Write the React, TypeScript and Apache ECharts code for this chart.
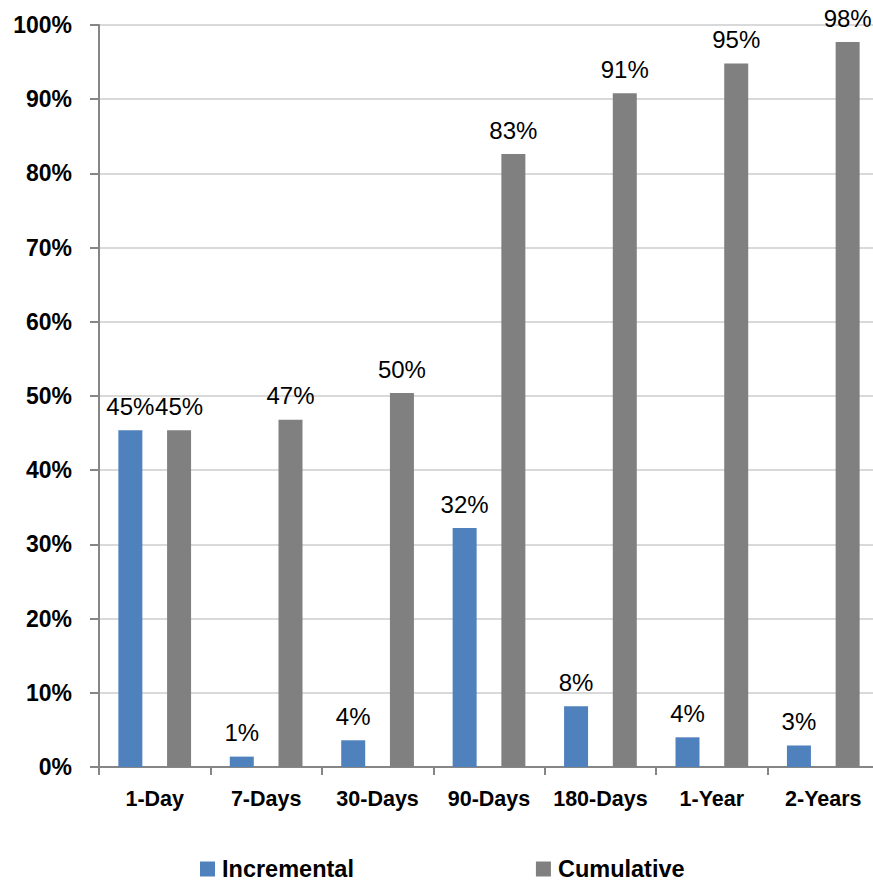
import React, { useEffect, useRef } from "react";
import * as echarts from "echarts";

const categories = ["1-Day", "7-Days", "30-Days", "90-Days", "180-Days", "1-Year", "2-Years"];
const incremental = [45.4, 1.4, 3.6, 32.2, 8.2, 4.0, 2.9];
const cumulative = [45.4, 46.8, 50.4, 82.6, 90.8, 94.8, 97.7];
const seriesNames = ["Incremental", "Cumulative"];

const FONT = '"Liberation Sans", Arial, sans-serif';
const BLUE = "#4F81BD";
const GREY = "#808080";
const AXIS = "#868686";

export default function App() {
  const ref = useRef<HTMLDivElement>(null);

  useEffect(() => {
    if (!ref.current) return;
    const chart = echarts.init(ref.current, undefined, { renderer: "svg" });
    const label = {
      show: true,
      position: "top",
      distance: 12,
      color: "#000",
      fontFamily: FONT,
      fontSize: 24,
      formatter: (p: any) => Math.round(p.value) + "%",
    };
    chart.setOption({
      animation: false,
      backgroundColor: "#fff",
      textStyle: { fontFamily: FONT },
      grid: {
        left: 99,
        top: 25,
        width: 780,
        height: 742,
        containLabel: false,
        outerBoundsMode: "none",
      },
      legend: {
        data: seriesNames,
        left: 200,
        top: 857,
        padding: 0,
        icon: "rect",
        itemWidth: 15,
        itemHeight: 15,
        itemGap: 182,
        textStyle: {
          fontFamily: FONT,
          fontSize: 23.5,
          fontWeight: "bold",
          color: "#000",
          padding: [0, 0, 0, 2],
        },
      },
      xAxis: {
        type: "category",
        data: categories,
        axisLine: { lineStyle: { color: AXIS, width: 2 } },
        axisTick: { show: true, length: 8, lineStyle: { color: AXIS, width: 2 } },
        axisLabel: {
          interval: 0,
          color: "#000",
          fontFamily: FONT,
          fontSize: 21.5,
          fontWeight: "bold",
          margin: 21,
        },
      },
      yAxis: {
        type: "value",
        min: 0,
        max: 100,
        interval: 10,
        axisLine: { show: true, lineStyle: { color: AXIS, width: 2 } },
        axisTick: { show: true, length: 9, lineStyle: { color: AXIS, width: 2 } },
        splitLine: { lineStyle: { color: "#D9D9D9", width: 2 } },
        axisLabel: {
          color: "#000",
          fontFamily: FONT,
          fontSize: 23,
          fontWeight: "bold",
          margin: 27,
          formatter: "{value}%",
        },
      },
      series: [
        {
          name: seriesNames[0],
          type: "bar",
          data: incremental,
          barWidth: 24,
          barGap: "103%",
          itemStyle: { color: BLUE },
          label,
        },
        {
          name: seriesNames[1],
          type: "bar",
          data: cumulative,
          barWidth: 24,
          barGap: "103%",
          itemStyle: { color: GREY },
          label,
        },
      ],
    });
    return () => chart.dispose();
  }, []);

  return (
    <div
      ref={ref}
      style={{ position: "absolute", left: 0, top: 0, width: 873, height: 882, overflow: "hidden" }}
    />
  );
}
